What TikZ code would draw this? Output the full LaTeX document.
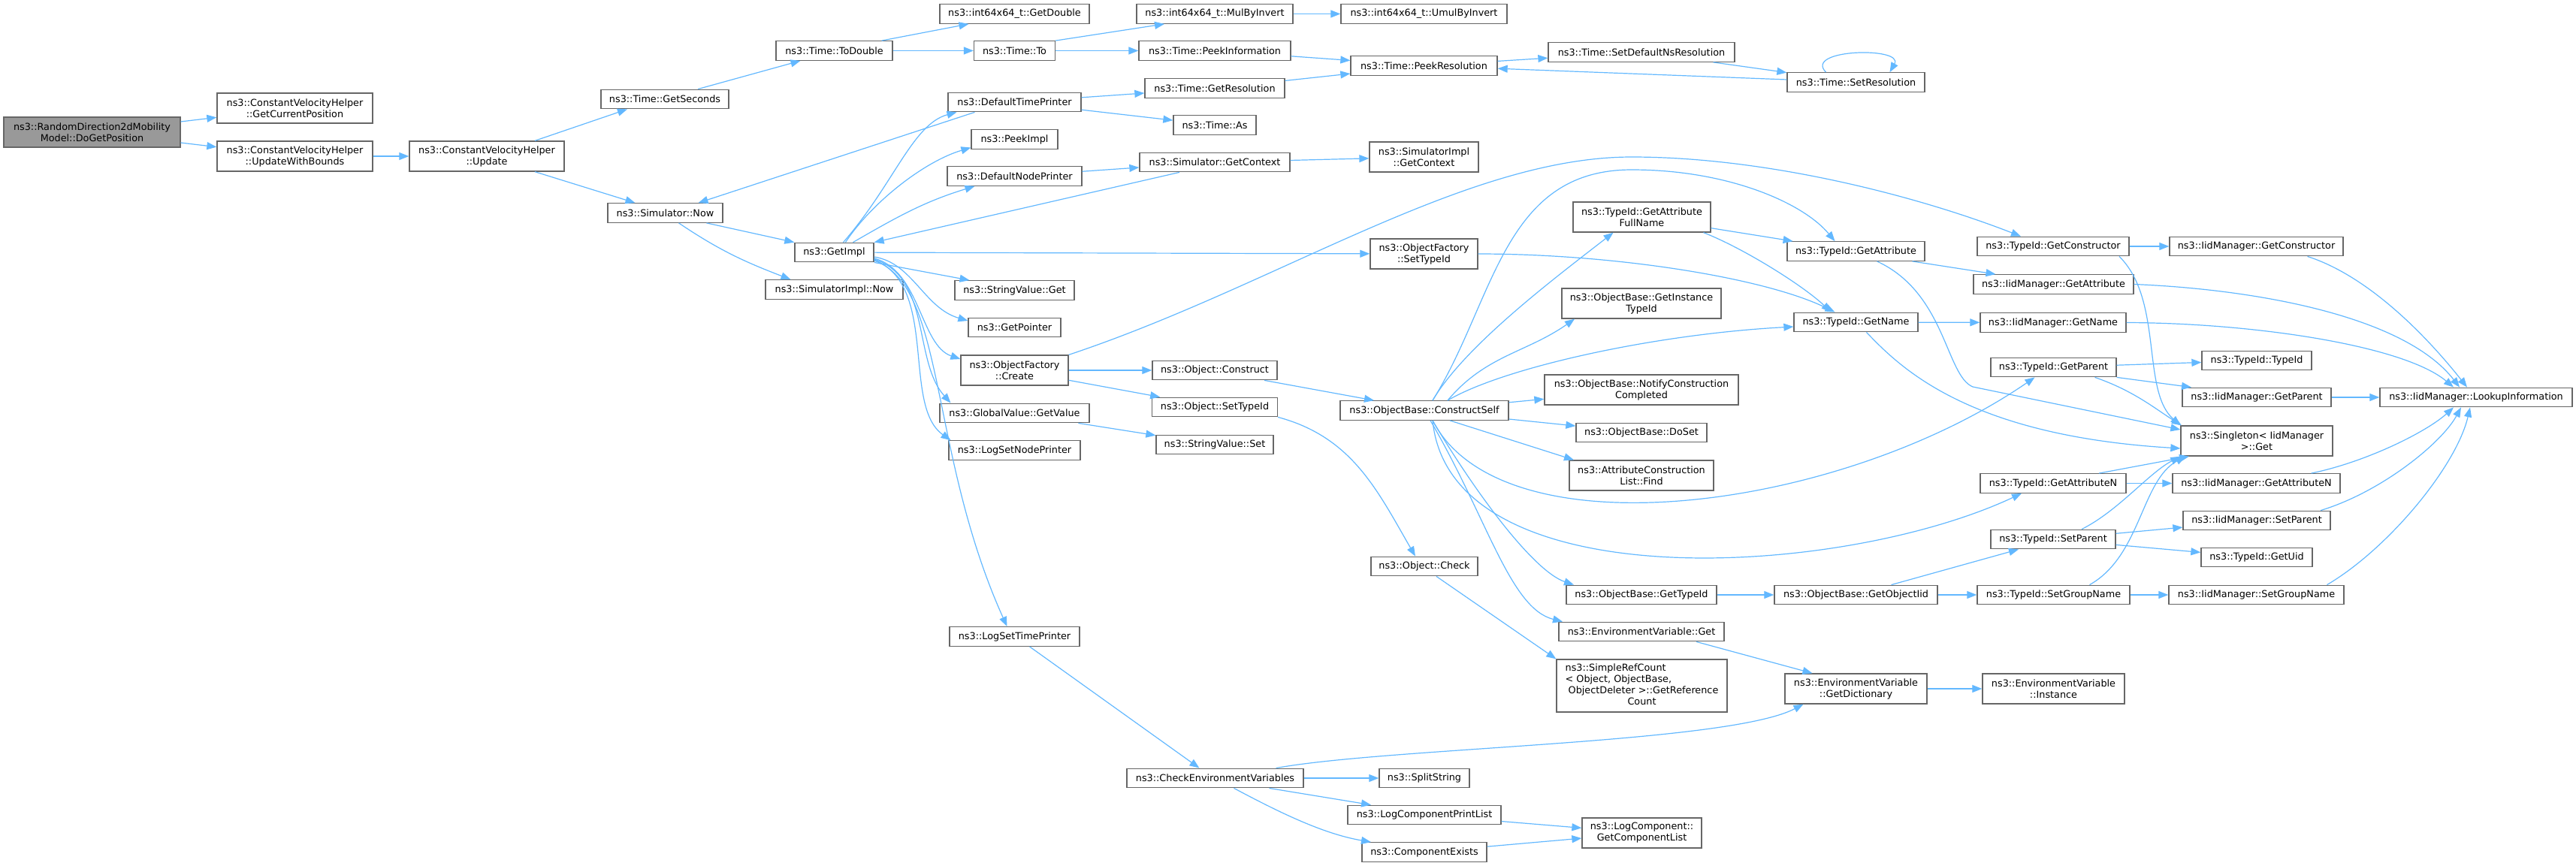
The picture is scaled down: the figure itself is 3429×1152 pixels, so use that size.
\documentclass[tikz,border=0pt]{standalone}
\usepackage{fontspec}
\setmainfont{DejaVu Sans}
\usepackage{tikz}
\usetikzlibrary{arrows.meta}
\usepackage{xcolor}
\definecolor{dxedge}{RGB}{99,184,255}
\definecolor{dxborder}{RGB}{102,102,102}
\definecolor{dxroot}{RGB}{153,153,153}
\newcommand{\dxfont}{\fontsize{12.8}{15}\selectfont}
\tikzstyle{func} = [draw=dxborder, line width=1.3pt, fill=white, inner sep=0pt, align=center, font=\dxfont]
\tikzstyle{root} = [func, fill=dxroot]
\tikzstyle{arrow} = [line width=1.2pt, draw=dxedge, -{Triangle[length=13pt,width=10pt]}]
\tikzset{one/.style={minimum height=25.5pt}, two/.style={minimum height=40pt}, wd/.style={minimum width=#1pt}}

\begin{document}
\begin{tikzpicture}[x=1pt, y=1pt]
\useasboundingbox (0,0) rectangle (3429,-1152);

% Caller and helpers
\node[root, wd=235, two] (dogp) at (122.5,-176) {ns3::RandomDirection2dMobility\\Model::DoGetPosition};
\node[func, wd=207, two] (curpos) at (392.5,-144) {ns3::ConstantVelocityHelper\\::GetCurrentPosition};
\node[func, wd=207, two] (updbnd) at (392.5,-208) {ns3::ConstantVelocityHelper\\::UpdateWithBounds};
\node[func, wd=206, two] (update) at (648,-208) {ns3::ConstantVelocityHelper\\::Update};
\node[func, wd=170, one] (getsec) at (885,-132) {ns3::Time::GetSeconds};
\node[func, wd=153, one] (simnow) at (885.5,-283.5) {ns3::Simulator::Now};
\node[func, wd=155, one] (todbl) at (1110.5,-67.5) {ns3::Time::ToDouble};
\node[func, wd=105, one] (getimpl) at (1110.5,-336) {ns3::GetImpl};
\node[func, wd=183, one] (implnow) at (1110.5,-385.5) {ns3::SimulatorImpl::Now};

% Column of GetImpl callees
\node[func, wd=199, one] (getdbl) at (1350.5,-18.5) {ns3::int64x64\_t::GetDouble};
\node[func, wd=108, one] (timeto) at (1350.5,-67.5) {ns3::Time::To};
\node[func, wd=177, one] (dtprint) at (1350.5,-136) {ns3::DefaultTimePrinter};
\node[func, wd=115, one] (peekimpl) at (1350.5,-185.5) {ns3::PeekImpl};
\node[func, wd=179, one] (dnprint) at (1350.5,-234.5) {ns3::DefaultNodePrinter};
\node[func, wd=159, one] (svget) at (1350.5,-386.5) {ns3::StringValue::Get};
\node[func, wd=123, one] (getptr) at (1350.5,-436) {ns3::GetPointer};
\node[func, wd=143, two] (ofcreate) at (1350.5,-493) {ns3::ObjectFactory\\::Create};
\node[func, wd=199, one] (gvget) at (1350.5,-550) {ns3::GlobalValue::GetValue};
\node[func, wd=175, one] (logsnp) at (1350.5,-599.5) {ns3::LogSetNodePrinter};
\node[func, wd=173, one] (logstp) at (1350.5,-847.5) {ns3::LogSetTimePrinter};

\node[func, wd=208, one] (mulinv) at (1617,-18.5) {ns3::int64x64\_t::MulByInvert};
\node[func, wd=202, one] (peekinfo) at (1617,-67.5) {ns3::Time::PeekInformation};
\node[func, wd=186, one] (getres) at (1617,-117.5) {ns3::Time::GetResolution};
\node[func, wd=110, one] (timeas) at (1617,-166.5) {ns3::Time::As};
\node[func, wd=200, one] (simctx) at (1617,-216) {ns3::Simulator::GetContext};
\node[func, wd=166, one] (objconstr) at (1617,-493) {ns3::Object::Construct};
\node[func, wd=167, one] (objsettid) at (1617,-542) {ns3::Object::SetTypeId};
\node[func, wd=156, one] (svset) at (1617,-592) {ns3::StringValue::Set};
\node[func, wd=235, one] (checkenv) at (1617.5,-1036) {ns3::CheckEnvironmentVariables};

\node[func, wd=221, one] (umulinv) at (1895.5,-18.5) {ns3::int64x64\_t::UmulByInvert};
\node[func, wd=195, one] (peekres) at (1895.5,-87.5) {ns3::Time::PeekResolution};
\node[func, wd=145, two] (implctx) at (1895.5,-209) {ns3::SimulatorImpl\\::GetContext};
\node[func, wd=143, two] (ofsettid) at (1895.5,-338) {ns3::ObjectFactory\\::SetTypeId};
\node[func, wd=224, one] (cself) at (1896,-546.5) {ns3::ObjectBase::ConstructSelf};
\node[func, wd=142, one] (objcheck) at (1896,-754) {ns3::Object::Check};
\node[func, wd=120, one] (splitstr) at (1896,-1036) {ns3::SplitString};
\node[func, wd=204, one] (logcpl) at (1896,-1085) {ns3::LogComponentPrintList};
\node[func, wd=166, one] (compex) at (1896,-1134.5) {ns3::ComponentExists};

\node[func, wd=248, one] (setdefns) at (2185,-69.5) {ns3::Time::SetDefaultNsResolution};
\node[func, wd=183, two] (gafullname) at (2185.5,-289) {ns3::TypeId::GetAttribute\\FullName};
\node[func, wd=212, two] (instancetid) at (2185,-404) {ns3::ObjectBase::GetInstance\\TypeId};
\node[func, wd=258, two] (notify) at (2185,-519) {ns3::ObjectBase::NotifyConstruction\\Completed};
\node[func, wd=174, one] (doset) at (2185,-576) {ns3::ObjectBase::DoSet};
\node[func, wd=192, two] (acfind) at (2185,-633) {ns3::AttributeConstruction\\List::Find};
\node[func, wd=200, one] (obgettid) at (2185,-792) {ns3::ObjectBase::GetTypeId};
\node[func, wd=220, one] (envget) at (2185,-841) {ns3::EnvironmentVariable::Get};
\node[func, wd=227, minimum height=70pt] (simplerc) at (2185.5,-913) {\begin{tabular}{@{}l@{}}ns3::SimpleRefCount\\< Object, ObjectBase,\\\ ObjectDeleter >::GetReference\\\multicolumn{1}{@{}c@{}}{Count}\end{tabular}};
\node[func, wd=159, two] (getcomplist) at (2185.5,-1109) {ns3::LogComponent::\\GetComponentList};

\node[func, wd=183, one] (setres) at (2470.5,-109.5) {ns3::Time::SetResolution};
\node[func, wd=183, one] (tidgetattr) at (2470.5,-334.5) {ns3::TypeId::GetAttribute};
\node[func, wd=165, one] (tidgetname) at (2470.5,-429) {ns3::TypeId::GetName};
\node[func, wd=217, one] (getobjiid) at (2470.5,-792) {ns3::ObjectBase::GetObjectIid};
\node[func, wd=189, two] (getdict) at (2470.5,-917) {ns3::EnvironmentVariable\\::GetDictionary};

\node[func, wd=202, one] (tidgetctor) at (2733,-328) {ns3::TypeId::GetConstructor};
\node[func, wd=213, one] (iidgetattr) at (2733.5,-378.5) {ns3::IidManager::GetAttribute};
\node[func, wd=194, one] (iidgetname) at (2733,-429.5) {ns3::IidManager::GetName};
\node[func, wd=167, one] (tidgetparent) at (2733.5,-489) {ns3::TypeId::GetParent};
\node[func, wd=194, one] (tidgetattrn) at (2733,-643.5) {ns3::TypeId::GetAttributeN};
\node[func, wd=166, one] (tidsetparent) at (2733,-718) {ns3::TypeId::SetParent};
\node[func, wd=203, one] (tidsetgroup) at (2733.5,-792) {ns3::TypeId::SetGroupName};
\node[func, wd=189, two] (envinst) at (2733.5,-917) {ns3::EnvironmentVariable\\::Instance};

\node[func, wd=231, one] (iidgetctor) at (3003.5,-328) {ns3::IidManager::GetConstructor};
\node[func, wd=146, one] (tidtypeid) at (3004,-480) {ns3::TypeId::TypeId};
\node[func, wd=198, one] (iidgetparent) at (3004,-529) {ns3::IidManager::GetParent};
\node[func, wd=202, two] (singleton) at (3004,-587) {ns3::Singleton< IidManager\\ >::Get};
\node[func, wd=223, one] (iidgetattrn) at (3003.5,-643.5) {ns3::IidManager::GetAttributeN};
\node[func, wd=196, one] (iidsetparent) at (3004,-693) {ns3::IidManager::SetParent};
\node[func, wd=148, one] (tidgetuid) at (3004,-742) {ns3::TypeId::GetUid};
\node[func, wd=233, one] (iidsetgroup) at (3003.5,-792) {ns3::IidManager::SetGroupName};
\node[func, wd=256, one] (lookup) at (3296,-529) {ns3::IidManager::LookupInformation};

% Calls: time and simulator
\draw[arrow] (dogp) -- (curpos);
\draw[arrow] (dogp) -- (updbnd);
\draw[arrow] (updbnd) -- (update);
\draw[arrow] ([xshift=64pt]update.north) -- ([xshift=-50pt]getsec.south);
\draw[arrow] ([xshift=64pt]update.south) -- ([xshift=-40pt]simnow.north);
\draw[arrow] ([xshift=44pt]getsec.north) -- ([xshift=-45pt]todbl.south);
\draw[arrow] ([xshift=-15pt]todbl.north east) -- ([xshift=-61pt]getdbl.south);
\draw[arrow] (todbl) -- (timeto);
\draw[arrow] (timeto.north east) -- ([xshift=-67pt]mulinv.south);
\draw[arrow] (timeto) -- (peekinfo);
\draw[arrow] (mulinv) -- (umulinv);
\draw[arrow] (peekinfo) -- (peekres);
\draw[arrow] (getres) -- (peekres);
\draw[arrow] (peekres) -- (setdefns);
\draw[arrow] (setdefns) -- (setres);
\draw[arrow] (setres) -- (peekres);
\draw[arrow] ([xshift=-40pt]setres.north) .. controls (2400,-65) and (2535,-62) .. ([xshift=45pt]setres.north);
\draw[arrow] ([xshift=55pt]simnow.south) -- (getimpl.north west);
\draw[arrow] ([xshift=18pt]simnow.south) to[out=-34,in=159] ([xshift=-58pt]implnow.north);
\draw[arrow] ([xshift=-53pt]dtprint.south) -- ([xshift=44pt]simnow.north);
\draw[arrow] (dtprint) -- (getres);
\draw[arrow] (dtprint) -- (timeas);

% Calls from GetImpl
\draw[arrow] ([xshift=12pt]getimpl.north) .. controls (1190,-245) and (1215,-165) .. ([xshift=-77pt]dtprint.south);
\draw[arrow] ([xshift=15pt]getimpl.north) .. controls (1160,-270) and (1230,-215) .. ([yshift=-11pt]peekimpl.west);
\draw[arrow] ([xshift=25pt]getimpl.north) to[out=30,in=197] ([xshift=-53pt]dnprint.south);
\draw[arrow] (dnprint) -- (simctx);
\draw[arrow] (simctx) -- (implctx);
\draw[arrow] ([xshift=-47pt]simctx.south) -- (getimpl.north east);
\draw[arrow] (getimpl) -- (ofsettid);
\draw[arrow] (getimpl.south east) -- ([xshift=-60pt]svget.north);
\draw[arrow] ([yshift=-6pt]getimpl.east) .. controls (1215,-350) and (1230,-410) .. ([yshift=9pt]getptr.west);
\draw[arrow] ([yshift=-8pt]getimpl.east) .. controls (1225,-360) and (1225,-460) .. ([yshift=15pt]ofcreate.west);
\draw[arrow] ([yshift=-9pt]getimpl.east) .. controls (1240,-370) and (1215,-480) .. ([xshift=-85pt]gvget.north);
\draw[arrow] ([yshift=-10pt]getimpl.east) .. controls (1250,-380) and (1200,-540) .. ([xshift=-85pt]logsnp.north);
\draw[arrow] ([yshift=-11pt]getimpl.east) .. controls (1260,-380) and (1235,-600) .. ([xshift=-10pt]logstp.north);

% Object creation
\draw[arrow] (ofcreate) -- (objconstr);
\draw[arrow] (ofcreate) -- (objsettid);
\draw[arrow] (ofcreate.north east) .. controls (1700,-380) and (1950,-209) .. (2172,-209) .. controls (2350,-209) and (2550,-260) .. ([xshift=-43pt]tidgetctor.north);
\draw[arrow] (gvget) -- (svset);
\draw[arrow] ([xshift=66pt]objconstr.south) -- ([xshift=-67pt]cself.north);
\draw[arrow] (objsettid.south east) to[out=-15,in=120] ([xshift=-12pt]objcheck.north);
\draw[arrow] ([xshift=16pt]objcheck.south) -- (simplerc.north west);
\draw[arrow] (ofsettid.east) .. controls (2150,-338) and (2350,-370) .. ([xshift=-28pt]tidgetname.north);

% ConstructSelf
\draw[arrow] ([xshift=11pt]cself.north) .. controls (1950,-460) and (2070,-370) .. ([xshift=-38pt]gafullname.south);
\draw[arrow] ([xshift=11pt]cself.north) .. controls (1990,-400) and (2000,-226) .. (2172,-226) .. controls (2300,-226) and (2400,-270) .. ([xshift=-28pt]tidgetattr.north);
\draw[arrow] ([xshift=31pt]cself.north) to[out=50,in=215] ([xshift=-89pt]instancetid.south);
\draw[arrow] ([xshift=31pt]cself.north) .. controls (2000,-490) and (2200,-445) .. ([yshift=-6pt]tidgetname.west);
\draw[arrow] (cself) -- (notify);
\draw[arrow] (cself) -- (doset);
\draw[arrow] ([xshift=34pt]cself.south) -- ([xshift=-90pt]acfind.north);
\draw[arrow] ([xshift=11pt]cself.south) .. controls (2000,-740) and (2450,-680) .. ([xshift=-25pt]tidgetparent.south);
\draw[arrow] ([xshift=11pt]cself.south) .. controls (1930,-800) and (2450,-770) .. ([xshift=-42pt]tidgetattrn.south);
\draw[arrow] ([xshift=11pt]cself.south) .. controls (1960,-650) and (2040,-760) .. ([xshift=-90pt]obgettid.north);
\draw[arrow] ([xshift=8pt]cself.south) .. controls (1980,-690) and (2010,-810) .. ([xshift=-105pt]envget.north);

% TypeId
\draw[arrow] (gafullname) -- (tidgetattr);
\draw[arrow] ([xshift=82pt]gafullname.south) .. controls (2320,-330) and (2400,-380) .. ([xshift=-33pt]tidgetname.north);
\draw[arrow] ([xshift=75pt]tidgetattr.south) -- ([xshift=-77pt]iidgetattr.north);
\draw[arrow] ([xshift=28pt]tidgetattr.south) .. controls (2590,-390) and (2590,-500) .. (2626,-515) -- ([yshift=15pt]singleton.west);
\draw[arrow] (tidgetname) -- (iidgetname);
\draw[arrow] ([xshift=14pt]tidgetname.south) .. controls (2530,-490) and (2620,-580) .. ([yshift=-10pt]singleton.west);
\draw[arrow] (tidgetctor) -- (iidgetctor);
\draw[arrow] ([xshift=88pt]tidgetctor.south) .. controls (2880,-400) and (2850,-520) .. (singleton.north west);
\draw[arrow] (tidgetparent) -- (tidtypeid);
\draw[arrow] (tidgetparent.south east) -- ([xshift=-87pt]iidgetparent.north);
\draw[arrow] ([xshift=55pt]tidgetparent.south) .. controls (2840,-520) and (2870,-545) .. ([xshift=-100pt]singleton.north);
\draw[arrow] ([xshift=61pt]tidgetattrn.north) -- ([xshift=-90pt]singleton.south);
\draw[arrow] (tidgetattrn) -- (iidgetattrn);
\draw[arrow] ([xshift=38pt]tidsetparent.north) .. controls (2820,-680) and (2860,-630) .. (singleton.south west);
\draw[arrow] (tidsetparent) -- (iidsetparent);
\draw[arrow] (tidsetparent) -- (tidgetuid);
\draw[arrow] ([xshift=48pt]tidsetgroup.north) .. controls (2850,-740) and (2850,-640) .. ([xshift=-95pt]singleton.south);
\draw[arrow] (tidsetgroup) -- (iidsetgroup);

% IidManager lookups
\draw[arrow] ([xshift=68pt]iidgetctor.south) .. controls (3160,-370) and (3240,-460) .. ([xshift=-12pt]lookup.north);
\draw[arrow] (iidgetattr.east) .. controls (3000,-385) and (3200,-420) .. ([xshift=-22pt]lookup.north);
\draw[arrow] (iidgetname.east) .. controls (3000,-430) and (3200,-460) .. ([xshift=-30pt]lookup.north);
\draw[arrow] (iidgetparent) -- (lookup);
\draw[arrow] ([xshift=73pt]iidgetattrn.north) .. controls (3150,-615) and (3230,-575) .. ([xshift=-30pt]lookup.south);
\draw[arrow] ([xshift=85pt]iidsetparent.north) .. controls (3170,-655) and (3250,-590) .. ([xshift=-20pt]lookup.south);
\draw[arrow] ([xshift=94pt]iidsetgroup.north) .. controls (3180,-730) and (3270,-620) .. ([xshift=-8pt]lookup.south);

% ObjectBase and environment
\draw[arrow] (obgettid) -- (getobjiid);
\draw[arrow] ([xshift=47pt]getobjiid.north) -- ([xshift=-46pt]tidsetparent.south);
\draw[arrow] (getobjiid) -- (tidsetgroup);
\draw[arrow] ([xshift=73pt]envget.south) -- ([xshift=-58pt]getdict.north);
\draw[arrow] (getdict) -- (envinst);
\draw[arrow] ([xshift=81pt]checkenv.north) .. controls (1850,-995) and (2300,-990) .. ([xshift=-70pt]getdict.south);
\draw[arrow] (checkenv) -- (splitstr);
\draw[arrow] ([xshift=72pt]checkenv.south) -- ([xshift=-71pt]logcpl.north);
\draw[arrow] ([xshift=25pt]checkenv.south) .. controls (1700,-1080) and (1760,-1110) .. ([xshift=-71pt]compex.north);
\draw[arrow] (logcpl) -- (getcomplist);
\draw[arrow] (compex) -- (getcomplist);
\draw[arrow] ([xshift=20pt]logstp.south) -- ([xshift=-21pt]checkenv.north);
\end{tikzpicture}
\end{document}
